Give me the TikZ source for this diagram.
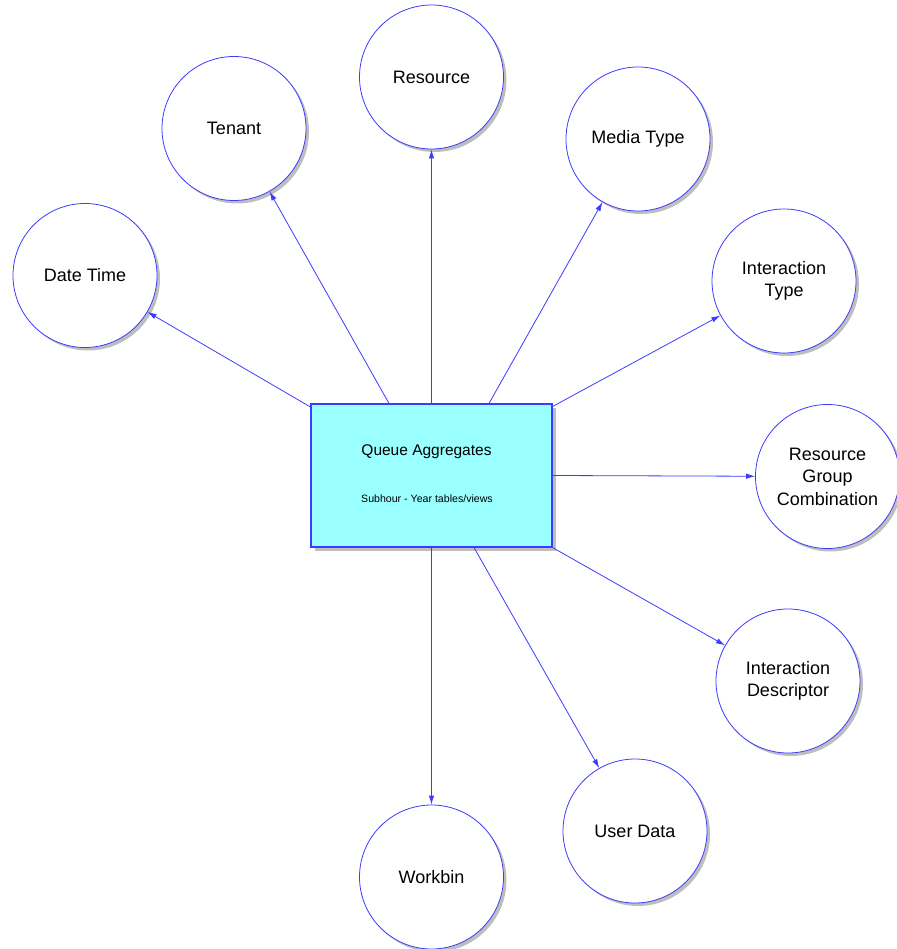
\documentclass[tikz,border=0pt]{standalone}
\usepackage{fontspec}
\setmainfont{Liberation Sans}
\usetikzlibrary{arrows.meta,shadows}
\definecolor{edgeblue}{RGB}{60,60,255}
\definecolor{boxcyan}{RGB}{153,255,255}
\definecolor{shadegray}{RGB}{190,190,190}
\tikzset{
  entity/.style={circle, draw=edgeblue, line width=0.8pt, fill=white,
    minimum size=144pt, inner sep=0pt, align=center,
    font=\fontsize{18}{22.5}\selectfont,
    drop shadow={shadow xshift=3pt, shadow yshift=-3pt, fill=shadegray, opacity=1}},
  factbox/.style={rectangle, draw=edgeblue, line width=1.1pt, fill=boxcyan,
    minimum width=241pt, minimum height=143pt, inner sep=0pt,
    drop shadow={shadow xshift=4pt, shadow yshift=-4pt, fill=shadegray, opacity=1}},
  link/.style={draw=edgeblue, line width=0.8pt,
    -{Latex[length=9pt,width=5.5pt]}},
  titletext/.style={font=\fontsize{15.5}{18}\selectfont, inner sep=0pt},
  subtext/.style={font=\fontsize{10.6}{13}\selectfont, inner sep=0pt}
}
\begin{document}
\begin{tikzpicture}[x=1pt,y=-1pt]
  \useasboundingbox (0,0) rectangle (896,949);

  % central fact table
  \node[factbox] (qa) at (431.5,475.5) {};
  \node[titletext] (qa-title) at (426.5,452) {Queue Aggregates};
  \node[subtext] (qa-sub) at (427,499) {Subhour - Year tables/views};

  % dimensions
  \node[entity] (datetime) at (85,275.5) {Date Time};
  \node[entity] (tenant) at (234,128.5) {Tenant};
  \node[entity] (resource) at (431.5,77) {Resource};
  \node[entity] (media) at (638,139) {Media Type};
  \node[entity] (itype) at (784,281) {Interaction\\Type};
  \node[entity] (rgc) at (827.5,476.5) {Resource\\Group\\Combination};
  \node[entity] (idesc) at (788,681) {Interaction\\Descriptor};
  \node[entity] (userdata) at (635,831) {User Data};
  \node[entity] (workbin) at (431.5,877) {Workbin};

  % connectors from the fact table to each dimension
  \path[link] ([yshift=68.5pt]qa.west) -- (datetime);
  \path[link] ([xshift=-42.5pt]qa.north) -- (tenant);
  \path[link] (qa.north) -- (resource);
  \path[link] ([xshift=57.5pt]qa.north) -- (media);
  \path[link] ([yshift=69pt]qa.east) -- (itype);
  \path[link] (qa.east) -- (rgc);
  \path[link] (qa.south east) -- (idesc);
  \path[link] ([xshift=42.5pt]qa.south) -- (userdata);
  \path[link] (qa.south) -- (workbin);
\end{tikzpicture}
\end{document}
